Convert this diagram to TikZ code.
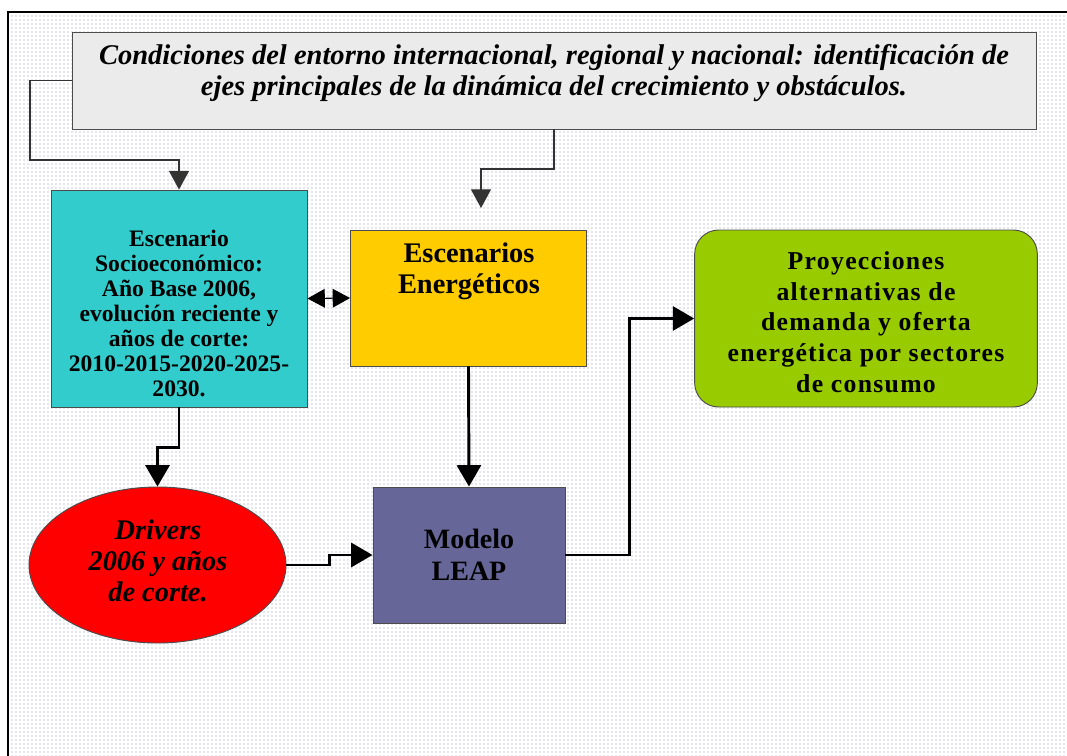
\documentclass[tikz,border=0pt]{standalone}
\usepackage{fontspec}
\setmainfont{Liberation Serif}
\usetikzlibrary{arrows.meta,shapes.geometric,patterns}
\definecolor{cyanbox}{HTML}{33CCCC}
\definecolor{orangebox}{HTML}{FFCC00}
\definecolor{greenbox}{HTML}{99CC00}
\definecolor{leapbox}{HTML}{666699}
\definecolor{redbox}{HTML}{FF0000}
\definecolor{dotcol}{HTML}{9090C0}
\definecolor{topfill}{HTML}{EBEBEB}
\begin{document}
\begin{tikzpicture}[x=0.75pt,y=-0.75pt,
  box/.style={draw=black!70, line width=0.7pt, inner sep=0pt},
  txt/.style={align=center, inner sep=0pt, font=\bfseries\fontsize{21}{23.25}\selectfont},
  thinarrow/.style={draw=black!80, line width=0.8pt, -{Triangle[width=15pt,length=14pt]}},
  thickarrow/.style={draw=black, line width=2.2pt, -{Triangle[width=18pt,length=16pt]}},
  dblarrow/.style={draw=black, line width=0.8pt, {Triangle[width=14pt,length=13pt]}-{Triangle[width=14pt,length=13pt]}}]
\useasboundingbox (0,0) rectangle (1067,756);
\clip (0,0) rectangle (1067,756);
\fill[white] (0,0) rectangle (1067,756);
\fill[pattern=dots, pattern color=dotcol] (8,12) rectangle (1067,756);
\draw[line width=1.5pt] (8,770) -- (8,12) -- (1080,12);

% top box
\node[box, fill=topfill, minimum width=723pt, minimum height=72.75pt] (top) at (554,80.5) {};
\node[txt, font=\bfseries\itshape\fontsize{21.4}{23.25}\selectfont] (toptxt) at (554,73)
  {Condiciones del entorno internacional, regional y nacional: identificación de\\ejes principales de la dinámica del crecimiento y obstáculos.};

% cyan box
\node[box, fill=cyanbox, minimum width=192pt, minimum height=162.75pt] (cyan) at (179,298.5) {};
\node[txt, font=\bfseries\fontsize{17.7}{18.75}\selectfont] (cyantxt) at (179,313)
  {Escenario\\Socioeconómico:\\Año Base 2006,\\evolución reciente y\\años de corte:\\2010-2015-2020-2025-\\2030.};

% orange box
\node[box, fill=orangebox, minimum width=177pt, minimum height=102pt] (orange) at (468.5,298) {};
\node[txt, font=\bfseries\fontsize{21.3}{23.25}\selectfont] (orangetxt) at (469,271)
  {Escenarios\\Energéticos};

% green box
\node[box, fill=greenbox, rounded corners=18pt, minimum width=257pt, minimum height=132.75pt] (green) at (866,318.5) {};
\node[txt, font=\bfseries\fontsize{19.3}{23}\selectfont\addfontfeature{LetterSpace=5}] (greentxt) at (866,322)
  {Proyecciones\\alternativas de\\demanda y oferta\\energética por sectores\\de consumo};

% drivers ellipse
\node[box, ellipse, fill=redbox, minimum width=192.75pt, minimum height=117pt] (drv) at (157.5,565) {};
\node[txt, font=\bfseries\itshape\fontsize{21.3}{23}\selectfont] (drvtxt) at (158,561)
  {Drivers\\2006 y años\\de corte.};

% LEAP box
\node[box, fill=leapbox, minimum width=144pt, minimum height=102pt, txt, font=\bfseries\fontsize{21}{24}\selectfont] (leap) at (469,555) {Modelo\\LEAP};

% connectors
\coordinate (c1) at (30,160);
\draw[thinarrow] (top.west) -| (c1) -| (cyan.north);
\coordinate (c2) at (481,169);
\coordinate (c3) at (481,208);
\draw[thinarrow] (top.south) |- (c2) -- (c3);
\draw[dblarrow] (cyan.east) -- (orange.west);
\draw[thickarrow] (orange.south) -- (leap.north);
\draw[thickarrow] (cyan.south) -- ++(0,40) -| (drv.north);
\draw[thickarrow] (drv.east) -- ++(43,0) |- (leap.west);
\draw[thickarrow] (leap.east) -- ++(64,0) |- (green.west);
\end{tikzpicture}
\end{document}
